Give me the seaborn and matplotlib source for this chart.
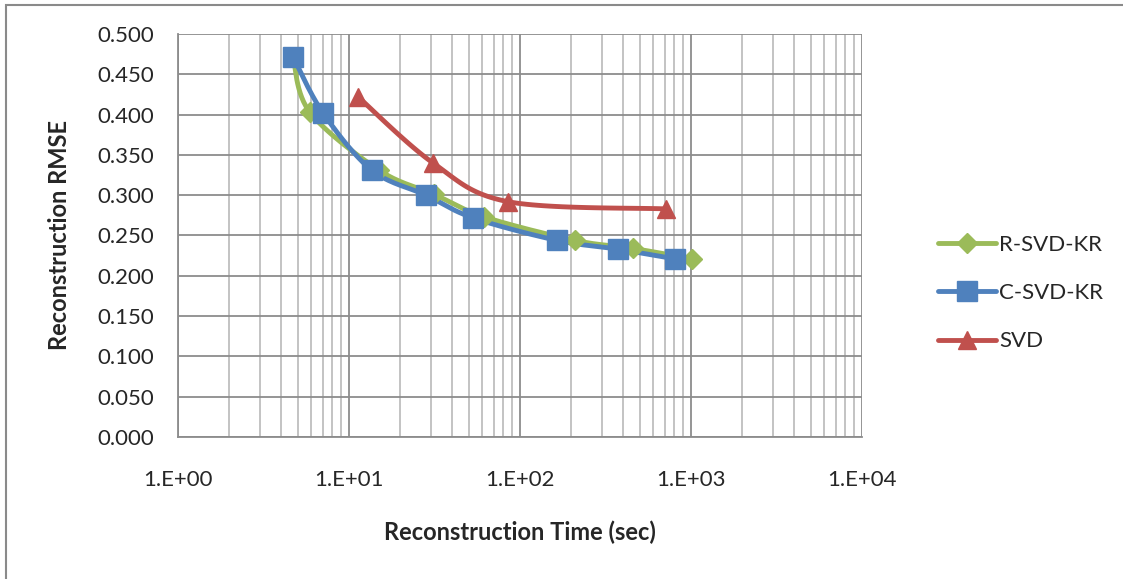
import numpy as np
import pandas as pd
import seaborn as sns
import matplotlib.pyplot as plt
from matplotlib.lines import Line2D
from matplotlib.patches import Rectangle
from matplotlib.ticker import FuncFormatter, LogLocator, MultipleLocator

# values
r_time = [4.7, 5.9, 15.0, 31.5, 62.0, 209, 457, 1020]
r_rmse = [0.472, 0.403, 0.331, 0.301, 0.273, 0.244, 0.234, 0.221]
c_time = [4.7, 7.05, 13.6, 28.2, 53.0, 164, 374, 806]
c_rmse = [0.472, 0.402, 0.331, 0.300, 0.272, 0.244, 0.233, 0.221]
s_time = [11.3, 31.0, 85.0, 714]
s_rmse = [0.422, 0.340, 0.292, 0.283]

series = [
    ("R-SVD-KR", r_time, r_rmse, "#9BBB59", "D", 10),
    ("C-SVD-KR", c_time, c_rmse, "#4F81BD", "s", 14),
    ("SVD", s_time, s_rmse, "#C0504D", "^", 13),
]


def smooth(xs, ys, n=30):
    # Catmull-Rom through the points, in log-x space (like Excel's smoothed line)
    lx = np.log10(xs)
    ys = np.asarray(ys, float)
    P = np.column_stack([lx, ys])
    P = np.vstack([P[0], P, P[-1]])
    out = []
    t = np.linspace(0, 1, n)[:, None]
    for i in range(1, len(P) - 2):
        p0, p1, p2, p3 = P[i - 1], P[i], P[i + 1], P[i + 2]
        seg = 0.5 * ((2 * p1) + (-p0 + p2) * t + (2 * p0 - 5 * p1 + 4 * p2 - p3) * t ** 2
                     + (-p0 + 3 * p1 - 3 * p2 + p3) * t ** 3)
        out.append(seg)
    out = np.vstack(out)
    return 10 ** out[:, 0], out[:, 1]


sns.set_style("white")
plt.rcParams['font.family'] = ['Lato', 'DejaVu Sans']

fig = plt.figure(figsize=(11.23, 5.79), dpi=100)
fig.patches.append(Rectangle((6 / 1123, -0.05), 1.2, (579 - 5) / 579 + 0.05,
                             transform=fig.transFigure, fill=False,
                             edgecolor="#8a8a8a", linewidth=1.5))
ax = fig.add_axes([178 / 1123, (579 - 437) / 579, 684 / 1123, 403 / 579])

handles = []
for name, xs, ys, col, mk, ms in series:
    sx, sy = smooth(xs, ys)
    df = pd.DataFrame({"time": sx, "rmse": sy})
    sns.lineplot(data=df, x="time", y="rmse", sort=False, color=col, lw=3.5,
                 ax=ax, legend=False, zorder=3)
    ax.plot(xs, ys, linestyle="none", marker=mk, markersize=ms, color=col,
            markeredgecolor=col, zorder=4)
    handles.append(Line2D([], [], color=col, lw=3.5, marker=mk, markersize=ms,
                          solid_capstyle="round", label=name))

ax.set_xscale("log")
ax.set_xlim(1, 1e4)
ax.set_ylim(0, 0.5)
ax.yaxis.set_major_locator(MultipleLocator(0.05))
ax.yaxis.set_major_formatter(FuncFormatter(lambda v, p: f"{v:.3f}"))
ax.xaxis.set_major_locator(LogLocator(base=10, numticks=10))
ax.xaxis.set_minor_locator(LogLocator(base=10, subs=np.arange(2, 10), numticks=100))
ax.xaxis.set_major_formatter(FuncFormatter(lambda v, p: f"1.E+{int(round(np.log10(v))):02d}"))

ax.grid(which="major", axis="both", color="#8c8c8c", lw=1.3)
ax.grid(which="minor", axis="x", color="#b3b3b3", lw=1.1)
ax.set_axisbelow(True)
for s in ["top", "right"]:
    ax.spines[s].set_visible(False)
for s in ["left", "bottom"]:
    ax.spines[s].set_color("#8c8c8c")
    ax.spines[s].set_linewidth(1.3)

ax.tick_params(axis="both", which="major", direction="out", length=7, width=1.3,
               color="#8c8c8c", labelsize=16, pad=10)
ax.tick_params(axis="x", which="major", pad=17)
ax.tick_params(axis="x", which="minor", length=0)

ax.set_xlabel("Reconstruction Time (sec)", fontsize=17, fontweight="bold", labelpad=22)
ax.set_ylabel("Reconstruction RMSE", fontsize=17, fontweight="bold", labelpad=19)

fig.legend(handles=handles, loc="center left", bbox_to_anchor=(918 / 1123, 1 - 293 / 579),
           frameon=False, fontsize=16, handlelength=2.6, labelspacing=1.28,
           handletextpad=0.15)

fig.savefig("out.png", dpi=100)
